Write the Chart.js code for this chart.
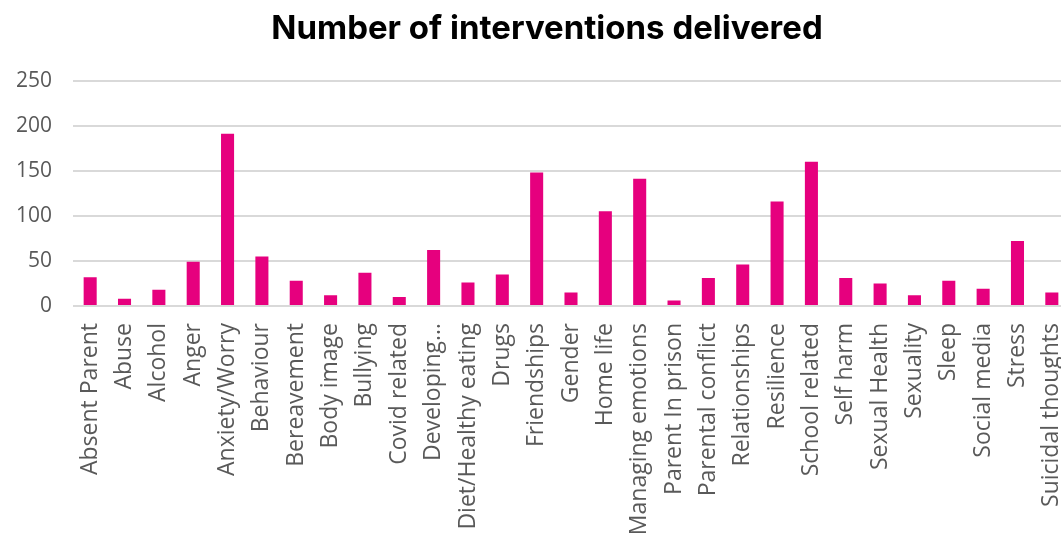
<!DOCTYPE html>
<html>
<head>
<meta charset="utf-8">
<script src="https://cdn.jsdelivr.net/npm/chart.js@4/dist/chart.umd.min.js"></script>
<style>
  html, body { margin: 0; padding: 0; background: #fff; overflow: hidden; }
  #wrap { width: 1061px; height: 537px; overflow: hidden; position: relative; }
  #box { width: 1094px; height: 537px; position: absolute; left: 0; top: 0; }
</style>
</head>
<body>
<div id="wrap"><div id="box"><canvas id="myChart"></canvas></div></div>
<script>
// categories on the x axis
var topics = [
    "Absent Parent", "Abuse", "Alcohol", "Anger", "Anxiety/Worry",
    "Behaviour", "Bereavement", "Body image", "Bullying", "Covid related",
    "Developing\u2026", "Diet/Healthy eating", "Drugs", "Friendships", "Gender",
    "Home life", "Managing emotions", "Parent In prison", "Parental conflict", "Relationships",
    "Resilience", "School related", "Self harm", "Sexual Health", "Sexuality",
    "Sleep", "Social media", "Stress", "Suicidal thoughts"
];
// number delivered per topic
var delivered = [
    32, 8, 18, 49, 191,
    55, 28, 12, 37, 10,
    62, 26, 35, 148, 15,
    105, 141, 6, 31, 46,
    116, 160, 31, 25, 12,
    28, 19, 72, 15
];
var yTicks = [0, 50, 100, 150, 200, 250];

var pink = "#E6007E";
var grey = "#595959";

const data = {
    labels: topics,
    datasets: [{
        label: "Number of interventions delivered",
        data: delivered,
        backgroundColor: pink,
        borderWidth: 0,
        barPercentage: 0.38,
        categoryPercentage: 1
    }]
};

const config = {
    type: "bar",
    data: data,
    options: {
        responsive: true,
        maintainAspectRatio: false,
        animation: false,
        layout: { padding: { left: 25, right: 25, top: 0, bottom: 0 } },
        plugins: {
            legend: { display: false },
            tooltip: { enabled: false },
            title: {
                display: true,
                text: "Number of interventions delivered",
                color: "#000",
                font: { family: "Inter", size: 33, weight: "bold" },
                padding: { top: 9, bottom: 32 }
            }
        },
        scales: {
            x: {
                grid: { display: false },
                border: { display: false },
                ticks: {
                    autoSkip: false,
                    minRotation: 90,
                    maxRotation: 90,
                    padding: 9,
                    color: grey,
                    font: { family: "Open Sans", size: 23 }
                },
                afterFit: function (scale) { scale.height = 231; }
            },
            y: {
                min: 0,
                max: 250,
                afterBuildTicks: function (scale) {
                    scale.ticks = yTicks.map(function (v) { return { value: v }; });
                },
                grid: { color: "#d9d9d9", lineWidth: 2, drawTicks: false },
                border: { display: false },
                ticks: {
                    padding: 21,
                    color: grey,
                    font: { family: "Open Sans", size: 21 }
                },
                afterFit: function (scale) {
                    scale.width = 48;
                    // labels stick out past the left padding, don't clip them
                    scale._computeLabelArea = function () { return null; };
                }
            }
        }
    }
};

var myChart = new Chart(document.getElementById("myChart"), config);
</script>
</body>
</html>
